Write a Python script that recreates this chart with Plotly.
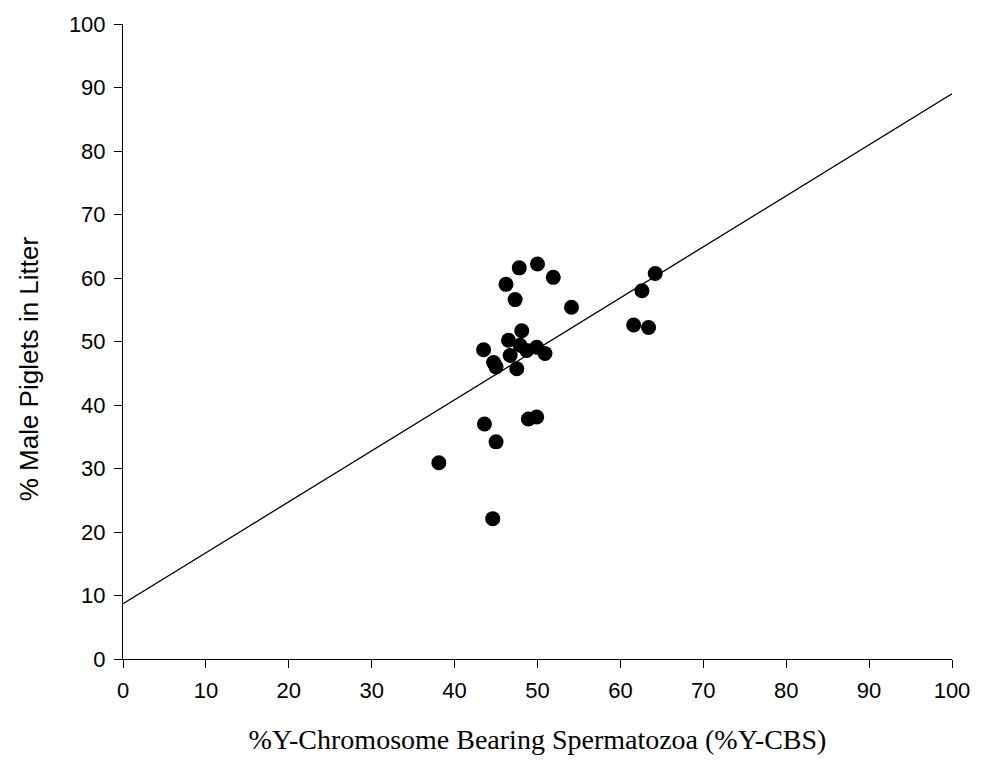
import plotly.graph_objects as go

# %Y-CBS of each boar's semen sample and % male piglets in the resulting litter
pct_y_cbs = [47.8, 50.0, 51.9, 46.2, 47.3, 54.1, 64.2, 62.6, 61.6, 63.4,
             48.1, 46.5, 43.5, 47.9, 48.7, 49.9, 50.9, 46.7, 44.7, 45.0,
             47.5, 43.6, 48.9, 49.9, 45.0, 38.1, 44.6]
pct_male = [61.6, 62.2, 60.1, 59.0, 56.6, 55.4, 60.7, 58.0, 52.6, 52.2,
            51.7, 50.2, 48.7, 49.4, 48.6, 49.1, 48.1, 47.8, 46.7, 46.0,
            45.7, 37.0, 37.8, 38.1, 34.2, 30.9, 22.1]

# Fitted regression line across the full axis range
fit_x = [0, 100]
fit_y = [8.7, 89.0]

tick_vals = list(range(0, 101, 10))

fig = go.Figure()
fig.add_trace(go.Scatter(x=fit_x, y=fit_y, mode="lines",
                         line=dict(color="black", width=1.3),
                         showlegend=False, hoverinfo="skip"))
fig.add_trace(go.Scatter(x=pct_y_cbs, y=pct_male, mode="markers",
                         marker=dict(color="black", size=15),
                         showlegend=False))

axis_common = dict(range=[0, 100], tickvals=tick_vals, ticks="outside",
                   ticklen=8, tickwidth=1, tickcolor="black",
                   showline=True, linecolor="black", linewidth=1,
                   showgrid=False, zeroline=False, ticklabelstandoff=4,
                   tickfont=dict(family="Liberation Sans, Arial", size=22, color="black"))

fig.update_layout(
    width=982, height=769,
    margin=dict(l=123, r=27, t=23, b=110),
    paper_bgcolor="white", plot_bgcolor="white",
    xaxis=dict(**axis_common,
               title=dict(text="%Y-Chromosome Bearing Spermatozoa (%Y-CBS)",
                          font=dict(family="Liberation Serif, Times New Roman", size=28, color="black"),
                          standoff=26)),
    yaxis=dict(**axis_common),
)

# Vertical y-axis label, set slightly below the plot's mid-height
fig.add_annotation(text="% Male Piglets in Litter", textangle=-90,
                   xref="paper", yref="paper", x=-0.114, y=0.457,
                   xanchor="center", yanchor="middle", showarrow=False,
                   font=dict(family="Liberation Sans, Arial", size=26, color="black"))

fig.write_html("out.html")
